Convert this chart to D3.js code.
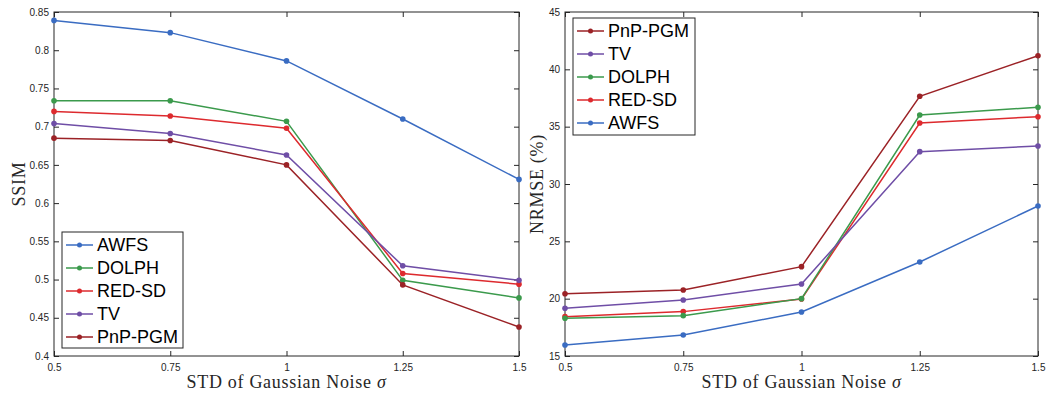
<!DOCTYPE html>
<html>
<head>
<meta charset="utf-8">
<script src="https://cdn.jsdelivr.net/npm/d3@7"></script>
<style>
  body { margin: 0; background: #fff; }
  svg { display: block; }
  .tick text { font-family: "Liberation Sans", Arial, sans-serif; font-size: 10px; fill: #262626; }
  .lab { font-family: "Liberation Serif", "Times New Roman", serif; font-size: 18px; fill: #262626; letter-spacing: 0.7px; }
  .leg { font-family: "Liberation Sans", Arial, sans-serif; font-size: 18px; fill: #000; }
</style>
</head>
<body>
<svg width="1047" height="395"></svg>
<script>
const sigma = [0.5, 0.75, 1, 1.25, 1.5]
const xTicks = [0.5, 0.75, 1, 1.25, 1.5]

const ssimAWFS  = [0.839, 0.823, 0.786, 0.710, 0.631]
const ssimDOLPH = [0.734, 0.734, 0.707, 0.499, 0.476]
const ssimRED   = [0.720, 0.714, 0.698, 0.508, 0.494]
const ssimTV    = [0.704, 0.691, 0.663, 0.518, 0.499]
const ssimPnP   = [0.685, 0.682, 0.650, 0.493, 0.438]
const ssimTicks = [0.4, 0.45, 0.5, 0.55, 0.6, 0.65, 0.7, 0.75, 0.8, 0.85]

const nrmseAWFS  = [15.96, 16.83, 18.84, 23.2, 28.08]
const nrmseDOLPH = [18.29, 18.52, 20.0, 36.02, 36.69]
const nrmseRED   = [18.43, 18.87, 19.97, 35.32, 35.87]
const nrmseTV    = [19.16, 19.88, 21.28, 32.82, 33.31]
const nrmsePnP   = [20.43, 20.76, 22.79, 37.65, 41.19]
const nrmseTicks = [15, 20, 25, 30, 35, 40, 45]

const colors = {AWFS: "#3a6cc2", DOLPH: "#3b9a4c", "RED-SD": "#dd2a2e", TV: "#6f4ea6", "PnP-PGM": "#9b2226"}

const svg = d3.select("svg")

function panel(o) {
  const g = svg.append("g")
  const x = d3.scaleLinear().domain([0.5, 1.5]).range([o.left, o.right])
  const y = d3.scaleLinear().domain(o.ydom).range([356, 12])
  const tl = 5

  // box
  g.append("rect").attr("x", o.left).attr("y", 12).attr("width", o.right - o.left).attr("height", 344)
    .style("fill", "none").style("stroke", "#262626").style("stroke-width", 1)

  const fmt = d => String(d)
  g.append("g").attr("transform", `translate(0,356)`)
    .call(d3.axisBottom(x).tickValues(xTicks).tickFormat(fmt).tickSizeInner(-tl).tickSizeOuter(0).tickPadding(8))
    .call(a => a.select(".domain").remove()).call(a => a.selectAll("line").style("stroke", "#262626"))
  g.append("g").attr("transform", `translate(0,12)`)
    .call(d3.axisTop(x).tickValues(xTicks).tickFormat("").tickSizeInner(-tl).tickSizeOuter(0))
    .call(a => a.select(".domain").remove()).call(a => a.selectAll("line").style("stroke", "#262626"))
  g.append("g").attr("transform", `translate(${o.left},0)`)
    .call(d3.axisLeft(y).tickValues(o.yticks).tickFormat(fmt).tickSizeInner(-tl).tickSizeOuter(0).tickPadding(5))
    .call(a => a.select(".domain").remove()).call(a => a.selectAll("line").style("stroke", "#262626"))
  g.append("g").attr("transform", `translate(${o.right},0)`)
    .call(d3.axisRight(y).tickValues(o.yticks).tickFormat("").tickSizeInner(-tl).tickSizeOuter(0))
    .call(a => a.select(".domain").remove()).call(a => a.selectAll("line").style("stroke", "#262626"))

  const line = d3.line().x((d, i) => x(sigma[i])).y(d => y(d))
  o.series.forEach(s => {
    g.append("path").datum(s.values).attr("d", line)
      .style("fill", "none").style("stroke", colors[s.name]).style("stroke-width", 1.5)
    g.selectAll(null).data(s.values).join("circle")
      .attr("cx", (d, i) => x(sigma[i])).attr("cy", d => y(d)).attr("r", 2.8)
      .style("fill", colors[s.name])
  })

  // labels
  g.append("text").attr("class", "lab").attr("x", (o.left + o.right) / 2).attr("y", 388)
    .style("text-anchor", "middle")
    .text("STD of Gaussian Noise ")
    .append("tspan").style("font-style", "italic").text("σ")
  g.append("text").attr("class", "lab")
    .attr("transform", `translate(${o.ylabX},184) rotate(-90)`)
    .style("text-anchor", "middle").style("dominant-baseline", "central")
    .text(o.ylabel)

  // legend
  const lg = g.append("g")
  lg.append("rect").attr("x", o.leg.x).attr("y", o.leg.y).attr("width", o.leg.w).attr("height", o.leg.h)
    .style("fill", "#fff").style("stroke", "#262626").style("stroke-width", 1)
  o.leg.order.forEach((name, i) => {
    const cy = o.leg.y + 13 + i * 23
    lg.append("line").attr("x1", o.leg.x + 4).attr("x2", o.leg.x + 31).attr("y1", cy).attr("y2", cy)
      .style("stroke", colors[name]).style("stroke-width", 1.5)
    lg.append("circle").attr("cx", o.leg.x + 17.5).attr("cy", cy).attr("r", 2.5).style("fill", colors[name])
    lg.append("text").attr("class", "leg").attr("x", o.leg.x + 35).attr("y", cy)
      .style("dominant-baseline", "central").text(name)
  })
}

panel({
  left: 54, right: 519, ydom: [0.4, 0.85], yticks: ssimTicks, ylabel: "SSIM", ylabX: 19,
  series: [
    {name: "AWFS", values: ssimAWFS}, {name: "DOLPH", values: ssimDOLPH},
    {name: "RED-SD", values: ssimRED}, {name: "TV", values: ssimTV}, {name: "PnP-PGM", values: ssimPnP}
  ],
  leg: {x: 62, y: 232, w: 121, h: 116, order: ["AWFS", "DOLPH", "RED-SD", "TV", "PnP-PGM"]}
})

panel({
  left: 565, right: 1038, ydom: [15, 45], yticks: nrmseTicks, ylabel: "NRMSE (%)", ylabX: 537,
  series: [
    {name: "AWFS", values: nrmseAWFS}, {name: "RED-SD", values: nrmseRED},
    {name: "DOLPH", values: nrmseDOLPH}, {name: "TV", values: nrmseTV}, {name: "PnP-PGM", values: nrmsePnP}
  ],
  leg: {x: 573, y: 18, w: 122, h: 117, order: ["PnP-PGM", "TV", "DOLPH", "RED-SD", "AWFS"]}
})
</script>
</body>
</html>
